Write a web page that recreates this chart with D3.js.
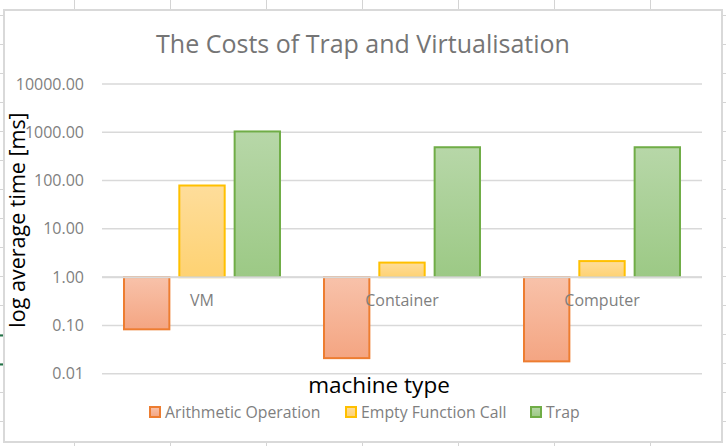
<!DOCTYPE html>
<html>
<head>
<meta charset="utf-8">
<script src="https://cdn.jsdelivr.net/npm/d3@7"></script>
<style>
	body { margin: 0; background: #fff; }
	svg { display: block; }
	text { font-family: "Open Sans", "Noto Sans", sans-serif; }
</style>
</head>
<body>
<div id="charts"></div>
<script>
var categories = ["VM", "Container", "Computer"];
var seriesNames = ["Arithmetic Operation", "Empty Function Call", "Trap"];
var arithmetic = [0.083, 0.021, 0.018];
var emptyCall = [79, 2.0, 2.15];
var trap = [1040, 490, 490];
var yTicks = [0.01, 0.1, 1, 10, 100, 1000, 10000];

var width = 726, height = 446;
var plot = { left: 102, right: 702, top: 84, bottom: 373.7 };
var colors = [
	{ stroke: "#ed7d31", top: "#f8c2aa", bottom: "#f4a582" },
	{ stroke: "#ffc000", top: "#fedd9b", bottom: "#fed272" },
	{ stroke: "#70ad47", top: "#b7d7a8", bottom: "#9cc985" }
];

var values = [arithmetic, emptyCall, trap];
var rows = categories.map(function (c, i) {
	return { name: c, vals: values.map(function (s, j) { return { s: j, v: s[i] }; }) };
});

var svg = d3.select("#charts").append("svg")
	.attr("width", width)
	.attr("height", height);

// spreadsheet cells behind the chart
var sheet = svg.append("g").attr("stroke", "#d4d4d4").attr("stroke-width", 1);
d3.range(74, width, 96).forEach(function (x) {
	sheet.append("line").attr("x1", x + 0.5).attr("x2", x + 0.5).attr("y1", 0).attr("y2", height);
});
d3.range(15.5, height, 29).forEach(function (y) {
	sheet.append("line").attr("x1", 0).attr("x2", width).attr("y1", y).attr("y2", y);
});
svg.append("line").attr("x1", 0).attr("x2", 3).attr("y1", 335.5).attr("y2", 335.5).attr("stroke", "#217346").attr("stroke-width", 2);
svg.append("line").attr("x1", 0).attr("x2", 3).attr("y1", 364.5).attr("y2", 364.5).attr("stroke", "#217346").attr("stroke-width", 2);

svg.append("rect")
	.attr("x", 4).attr("y", 10)
	.attr("width", 718).attr("height", 432)
	.attr("fill", "#fff")
	.attr("stroke", "#d9d9d9")
	.attr("stroke-width", 2);

var defs = svg.append("defs");
colors.forEach(function (c, i) {
	var g = defs.append("linearGradient").attr("id", "grad" + i)
		.attr("x1", 0).attr("y1", 0).attr("x2", 0).attr("y2", 1);
	g.append("stop").attr("offset", "0%").attr("stop-color", c.top);
	g.append("stop").attr("offset", "100%").attr("stop-color", c.bottom);
});

var x0 = d3.scaleBand().domain(categories).range([plot.left, plot.right])
	.paddingInner(0.22).paddingOuter(0.11);
var x1 = d3.scaleBand().domain([0, 1, 2]).range([0, x0.bandwidth()]).padding(0.18).paddingOuter(0);
var y = d3.scaleLog().domain([0.01, 10000]).range([plot.bottom, plot.top]);

// gridlines
svg.append("g")
	.selectAll("line")
	.data(yTicks)
	.enter()
	.append("line")
	.attr("x1", plot.left).attr("x2", plot.right)
	.attr("y1", function (d) { return y(d); })
	.attr("y2", function (d) { return y(d); })
	.attr("stroke", "#d9d9d9")
	.attr("stroke-width", 1.5);

// y axis labels
var yAxis = d3.axisLeft(y).tickValues(yTicks).tickFormat(d3.format(".2f")).tickSize(0).tickPadding(0);
svg.append("g")
	.attr("transform", "translate(" + (plot.left - 18) + ",0)")
	.call(yAxis)
	.call(function (g) {
		g.select(".domain").remove();
		g.selectAll("text").attr("fill", "#7f7f7f").style("font-size", "16px")
			.style("font-family", "'Open Sans', 'Noto Sans', sans-serif");
	});

// bars
var groups = svg.append("g").selectAll("g")
	.data(rows)
	.enter()
	.append("g")
	.attr("transform", function (d) { return "translate(" + x0(d.name) + ",0)"; });

groups.selectAll("rect")
	.data(function (d) { return d.vals; })
	.enter()
	.append("rect")
	.attr("x", function (d) { return x1(d.s); })
	.attr("y", function (d) { return Math.min(y(d.v), y(1)); })
	.attr("width", x1.bandwidth())
	.attr("height", function (d) { return Math.abs(y(d.v) - y(1)); })
	.attr("fill", function (d) { return "url(#grad" + d.s + ")"; })
	.attr("stroke", function (d) { return colors[d.s].stroke; })
	.attr("stroke-width", 2);

// horizontal axis crosses at 1.00, drawn over the bars
svg.append("line")
	.attr("x1", plot.left).attr("x2", plot.right)
	.attr("y1", y(1)).attr("y2", y(1))
	.attr("stroke", "#d9d9d9")
	.attr("stroke-width", 2);

// category labels sit just under the 1.00 line
svg.append("g").selectAll("text")
	.data(categories)
	.enter()
	.append("text")
	.attr("x", function (d) { return x0(d) + x0.bandwidth() / 2; })
	.attr("y", y(1) + 29)
	.attr("text-anchor", "middle")
	.attr("fill", "#7f7f7f")
	.style("font-size", "16px")
	.text(function (d) { return d; });

// titles
svg.append("text")
	.attr("x", 363).attr("y", 53)
	.attr("text-anchor", "middle")
	.attr("fill", "#757575")
	.style("font-size", "25px")
	.text("The Costs of Trap and Virtualisation");

svg.append("text")
	.attr("x", 379).attr("y", 393)
	.attr("text-anchor", "middle")
	.attr("fill", "#000")
	.style("font-size", "22.5px")
	.text("machine type");

svg.append("text")
	.attr("transform", "translate(25,220) rotate(-90)")
	.attr("text-anchor", "middle")
	.attr("fill", "#000")
	.style("font-size", "21.5px")
	.text("log average time [ms]");

// legend
var legendX = [150, 346, 531];
var legend = svg.append("g").selectAll("g")
	.data(seriesNames)
	.enter()
	.append("g")
	.attr("transform", function (d, i) { return "translate(" + legendX[i] + ",407)"; });
legend.append("rect")
	.attr("width", 10).attr("height", 10)
	.attr("fill", function (d, i) { return "url(#grad" + i + ")"; })
	.attr("stroke", function (d, i) { return colors[i].stroke; })
	.attr("stroke-width", 2);
legend.append("text")
	.attr("x", 15).attr("y", 10.5)
	.attr("fill", "#7f7f7f")
	.style("font-size", "15.8px")
	.text(function (d) { return d; });
</script>
</body>
</html>
